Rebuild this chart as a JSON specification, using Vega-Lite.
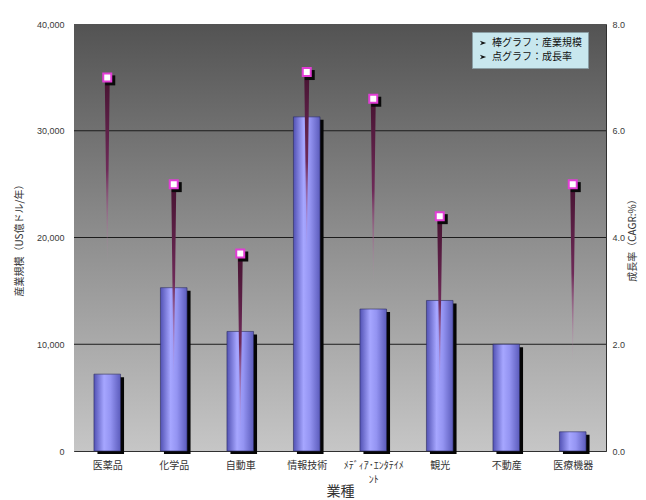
{
  "$schema": "https://vega.github.io/schema/vega-lite/v6.json",
  "width": 532,
  "height": 427,
  "autosize": "none",
  "padding": {"left": 74, "top": 24, "right": 40, "bottom": 49},
  "background": "white",
  "datasets": {
    "industries": [
      {"業種": "医薬品", "産業規模": 7200, "成長率": 7.0, "下端": 3.5},
      {"業種": "化学品", "産業規模": 15300, "成長率": 5.0, "下端": 1.3},
      {"業種": "自動車", "産業規模": 11200, "成長率": 3.7, "下端": 0.3},
      {"業種": "情報技術", "産業規模": 31300, "成長率": 7.1, "下端": 3.7},
      {"業種": "ﾒﾃﾞｨｱ･ｴﾝﾀﾃｲﾒﾝﾄ", "産業規模": 13300, "成長率": 6.6, "下端": 3.1},
      {"業種": "観光", "産業規模": 14100, "成長率": 4.4, "下端": 1.1},
      {"業種": "不動産", "産業規模": 10000, "成長率": null, "下端": null},
      {"業種": "医療機器", "産業規模": 1800, "成長率": 5.0, "下端": 1.6}
    ],
    "notes": [
      {"凡例": "棒グラフ：産業規模"},
      {"凡例": "点グラフ：成長率"}
    ],
    "frame": [{}]
  },
  "config": {
    "view": {"stroke": "#303030", "strokeWidth": 1},
    "axis": {
      "labelFont": "Liberation Sans",
      "labelFontSize": 9,
      "labelColor": "#3a3a3a",
      "titleFont": "Noto Sans CJK JP",
      "titleFontWeight": "normal",
      "titleColor": "#333333",
      "domain": false
    }
  },
  "layer": [
    {
      "layer": [
        {
          "data": {"name": "frame"},
          "mark": {
            "type": "rect",
            "color": {
              "gradient": "linear", "x1": 0, "y1": 0, "x2": 0, "y2": 1,
              "stops": [
                {"offset": 0, "color": "#535353"},
                {"offset": 0.5, "color": "#8e8e8e"},
                {"offset": 1, "color": "#c6c6c6"}
              ]
            }
          },
          "encoding": {
            "y": {
              "datum": 40000, "type": "quantitative",
              "scale": {"domain": [0, 40000]},
              "axis": {
                "title": "産業規模（US億ドル/年）",
                "titleFontSize": 10,
                "titlePadding": 12,
                "values": [0, 10000, 20000, 30000, 40000],
                "format": ",d",
                "ticks": false,
                "labelPadding": 10,
                "grid": false
              }
            },
            "y2": {"datum": 0}
          }
        },
        {
          "data": {"name": "frame"},
          "layer": [
            {"mark": {"type": "rule", "color": "#1c1c1c", "strokeWidth": 1}, "encoding": {"y": {"datum": 10000, "type": "quantitative"}}},
            {"mark": {"type": "rule", "color": "#1c1c1c", "strokeWidth": 1}, "encoding": {"y": {"datum": 20000, "type": "quantitative"}}},
            {"mark": {"type": "rule", "color": "#1c1c1c", "strokeWidth": 1}, "encoding": {"y": {"datum": 30000, "type": "quantitative"}}}
          ]
        },
        {
          "data": {"name": "industries"},
          "mark": {
            "type": "bar", "color": "#050505",
            "width": {"band": 0.4},
            "xOffset": 3.5, "yOffset": 3, "y2Offset": 0
          },
          "encoding": {
            "x": {
              "field": "業種", "type": "nominal",
              "scale": {
                "domain": ["医薬品", "化学品", "自動車", "情報技術", "ﾒﾃﾞｨｱ･ｴﾝﾀﾃｲﾒﾝﾄ", "観光", "不動産", "医療機器"],
                "paddingInner": 0, "paddingOuter": 0
              },
              "axis": {
                "title": "業種",
                "labelAngle": 0,
                "labelFont": "Noto Sans CJK JP",
                "labelFontSize": 10,
                "labelColor": "#333333",
                "labelPadding": 12,
                "labelLineHeight": 14,
                "labelExpr": "datum.label == 'ﾒﾃﾞｨｱ･ｴﾝﾀﾃｲﾒﾝﾄ' ? ['ﾒﾃﾞｨｱ･ｴﾝﾀﾃｲﾒ', 'ﾝﾄ'] : datum.label",
                "tickBand": "extent",
                "tickSize": -3,
                "tickColor": "#333333",
                "titleFontSize": 14,
                "titlePadding": 0
              }
            },
            "y": {"field": "産業規模", "type": "quantitative", "title": "産業規模（US億ドル/年）"}
          }
        },
        {
          "data": {"name": "industries"},
          "mark": {
            "type": "bar",
            "width": {"band": 0.4},
            "stroke": "#2c2c60", "strokeWidth": 0.6,
            "color": {
              "gradient": "linear", "x1": 0, "y1": 0, "x2": 1, "y2": 0,
              "stops": [
                {"offset": 0, "color": "#5252b4"},
                {"offset": 0.38, "color": "#a6a6ff"},
                {"offset": 0.62, "color": "#9494f2"},
                {"offset": 1, "color": "#5c5cbc"}
              ]
            }
          },
          "encoding": {
            "x": {"field": "業種", "type": "nominal", "title": "業種"},
            "y": {"field": "産業規模", "type": "quantitative", "title": "産業規模（US億ドル/年）"}
          }
        }
      ]
    },
    {
      "data": {"name": "industries"},
      "transform": [{"filter": "isValid(datum['成長率'])"}],
      "layer": [
        {
          "transform": [{"fold": ["成長率", "下端"], "as": ["端点", "値"]}],
          "mark": {
            "type": "trail",
            "color": {
              "gradient": "linear", "x1": 0, "y1": 0, "x2": 0, "y2": 1,
              "stops": [
                {"offset": 0, "color": "#461230"},
                {"offset": 0.5, "color": "#6e2a58"},
                {"offset": 1, "color": "rgba(210,140,190,0)"}
              ]
            }
          },
          "encoding": {
            "x": {"field": "業種", "type": "nominal", "title": "業種"},
            "y": {
              "field": "値", "type": "quantitative",
              "scale": {"domain": [0, 8]},
              "axis": {
                "orient": "right",
                "title": "成長率（CAGR:%）",
                "titleAngle": -90,
                "titleBaseline": "top",
                "titleFontSize": 10,
                "titlePadding": 3,
                "values": [0, 2, 4, 6, 8],
                "format": ".1f",
                "ticks": false,
                "labelPadding": 6,
                "grid": false
              }
            },
            "size": {
              "field": "端点", "type": "ordinal",
              "scale": {"domain": ["成長率", "下端"], "range": [5, 0.2]},
              "legend": null
            },
            "detail": {"field": "業種"},
            "order": {"field": "値", "type": "quantitative"}
          }
        },
        {
          "mark": {"type": "square", "color": "#0a0a0a", "size": 100, "opacity": 1, "xOffset": 3, "yOffset": 3},
          "encoding": {
            "x": {"field": "業種", "type": "nominal", "title": "業種"},
            "y": {"field": "成長率", "type": "quantitative", "title": "成長率（CAGR:%）"}
          }
        },
        {
          "mark": {"type": "square", "fill": "#ffffff", "stroke": "#e23cd6", "strokeWidth": 2, "size": 64, "opacity": 1},
          "encoding": {
            "x": {"field": "業種", "type": "nominal", "title": "業種"},
            "y": {"field": "成長率", "type": "quantitative", "title": "成長率（CAGR:%）"}
          }
        }
      ]
    },
    {
      "data": {"name": "notes"},
      "mark": {"type": "point", "filled": true, "size": 0},
      "encoding": {
        "color": {
          "field": "凡例", "type": "nominal",
          "sort": null,
          "scale": {"range": ["#111111", "#111111"]},
          "legend": {
            "title": null,
            "orient": "none",
            "legendX": 398,
            "legendY": 8,
            "fillColor": "#c8e7ee",
            "strokeColor": "#8a9ea4",
            "padding": 6,
            "rowPadding": 4,
            "symbolType": "M-1,-0.7L1,0L-1,0.7L-0.4,0Z",
            "symbolSize": 40,
            "symbolOpacity": 1,
            "symbolStrokeWidth": 0,
            "labelFont": "Noto Sans CJK JP",
            "labelFontSize": 10,
            "labelColor": "#111111"
          }
        }
      }
    }
  ],
  "resolve": {"scale": {"y": "independent"}, "axis": {"y": "independent"}}
}
